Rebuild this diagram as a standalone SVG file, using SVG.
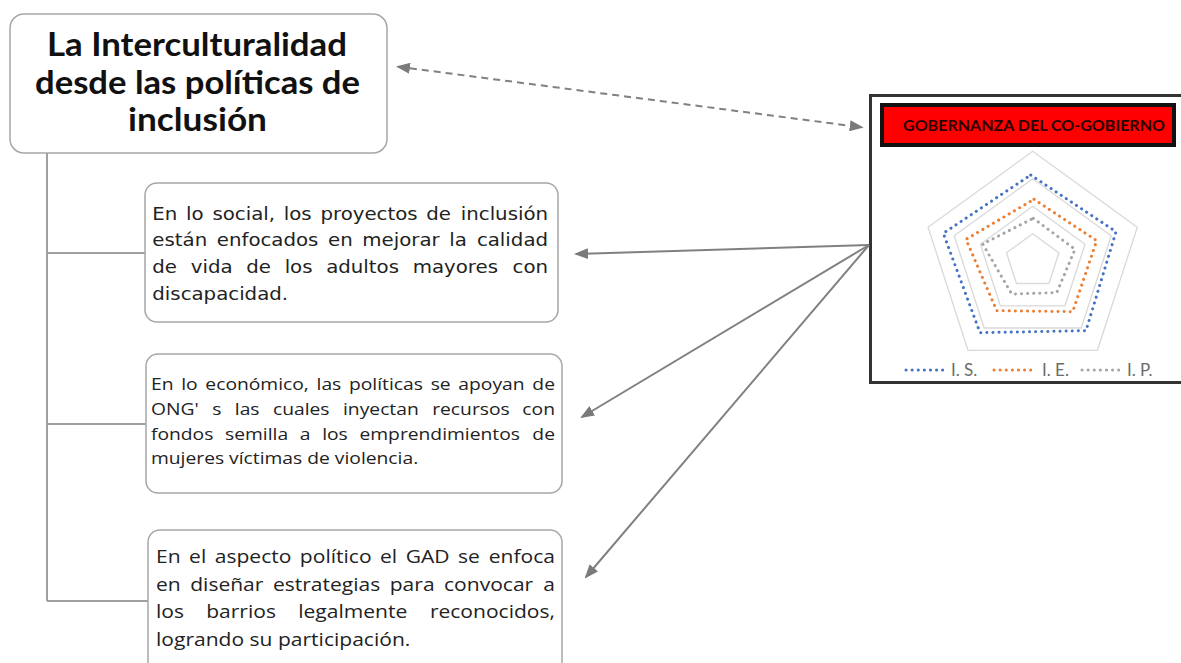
<svg xmlns="http://www.w3.org/2000/svg" width="1181" height="663" viewBox="0 0 1181 663">
<style>
.box{fill:#fff;stroke:#a6a6a6;stroke-width:1.5}
.title{font-family:Lato,"Liberation Sans",sans-serif;font-weight:700;font-size:33px;fill:#111}
.t1{font-family:"DejaVu Sans","Liberation Sans",sans-serif;font-size:17.5px;fill:#222}
.t2{font-family:"Open Sans","Liberation Sans",sans-serif;font-size:17.2px;fill:#222}
.t3{font-family:"Open Sans","Liberation Sans",sans-serif;font-size:18.8px;fill:#222}
.e{text-anchor:end}
.tree{stroke:#a0a0a0;stroke-width:2;fill:none}
.conn{stroke:#808080;stroke-width:2;fill:none}
.dash{stroke-dasharray:7 5}
.grid{fill:none;stroke:#d9d9d9;stroke-width:1.3}
.ser{fill:none;stroke-width:3;stroke-linecap:round;stroke-dasharray:0.1 6}
.leg{font-family:Lato,"Liberation Sans",sans-serif;font-size:17px;fill:#6b6b6b}
</style>
<defs>
<marker id="ah" viewBox="0 0 14 11" refX="12" refY="5.5" markerWidth="14" markerHeight="11" markerUnits="userSpaceOnUse" orient="auto-start-reverse">
<path d="M0,0 L14,5.5 L0,11 z" fill="#7a7a7a"/>
</marker>
</defs>
<rect width="1181" height="663" fill="#fff"/>

<g id="tree-lines">
<path class="tree" d="M47,153 V601 M47,253 H145 M47,424 H146 M47,601 H148"/>
</g>

<g id="main">
<rect class="box" x="10" y="14" width="377" height="139" rx="14"/>
<text class="title" x="47" y="56" textLength="300" lengthAdjust="spacingAndGlyphs">La Interculturalidad</text>
<text class="title" x="35" y="94" textLength="325" lengthAdjust="spacingAndGlyphs">desde las políticas de</text>
<text class="title" x="128" y="131" textLength="139" lengthAdjust="spacingAndGlyphs">inclusión</text>
</g>

<g id="social">
<rect class="box" x="145" y="183" width="413" height="139" rx="12"/>
<g transform="scale(1.13,1)">
<text class="t1" x="134.8" y="220.5" style="word-spacing:2.19px">En lo social, los proyectos de</text>
<text class="t1 e" x="485" y="220.5">inclusión</text>
<text class="t1" x="134.8" y="246.5" style="word-spacing:2.95px">están enfocados en mejorar la</text>
<text class="t1 e" x="485" y="246.5">calidad</text>
<text class="t1" x="134.8" y="273" style="word-spacing:6.56px">de vida de los adultos mayores</text>
<text class="t1 e" x="485" y="273">con</text>
<text class="t1" x="134.8" y="300">discapacidad.</text>
</g>
</g>

<g id="economico">
<rect class="box" x="146" y="354" width="416" height="139" rx="12"/>
<g transform="scale(1.12,1)">
<text class="t2" x="134.8" y="390.5" style="word-spacing:2.43px">En lo económico, las políticas se apoyan</text>
<text class="t2 e" x="495.5" y="390.5">de</text>
<text class="t2" x="134.8" y="415.5" style="word-spacing:7.56px">ONG' s las cuales inyectan recursos</text>
<text class="t2 e" x="495.5" y="415.5">con</text>
<text class="t2" x="134.8" y="440" style="word-spacing:5.96px">fondos semilla a los emprendimientos</text>
<text class="t2 e" x="495.5" y="440">de</text>
<text class="t2" x="134.8" y="464.5">mujeres víctimas de violencia.</text>
</g>
</g>

<g id="politico">
<rect class="box" x="148" y="530" width="414" height="150" rx="12"/>
<g transform="scale(1.12,1)">
<text class="t3" x="139.3" y="563" style="word-spacing:2.72px">En el aspecto político el GAD se</text>
<text class="t3 e" x="495.5" y="563">enfoca</text>
<text class="t3" x="139.3" y="591" style="word-spacing:3.59px">en diseñar estrategias para convocar</text>
<text class="t3 e" x="495.5" y="591">a</text>
<text class="t3" x="139.3" y="618" style="word-spacing:14.96px">los barrios legalmente</text>
<text class="t3 e" x="495.5" y="618">reconocidos,</text>
<text class="t3" x="139.3" y="646">logrando su participación.</text>
</g>
</g>

<g id="gobernanza">
<rect x="870.5" y="95.5" width="320" height="287" fill="#fff" stroke="#333" stroke-width="3"/>
<rect x="882" y="105" width="292" height="40" fill="#ff0000" stroke="#111" stroke-width="4"/>
<text x="903" y="131" textLength="262" lengthAdjust="spacingAndGlyphs" style="font-family:Lato,'Liberation Sans',sans-serif;font-weight:700;font-size:15px;fill:#2a0000">GOBERNANZA DEL CO-GOBIERNO</text>
<polygon class="grid" points="1032.7,151.3 1137.3,227.3 1097.4,350.3 968.0,350.3 928.1,227.3"/>
<polygon class="grid" points="1032.7,178.8 1111.2,235.8 1081.2,328.0 984.2,328.0 954.2,235.8"/>
<polygon class="grid" points="1032.7,206.3 1085.0,244.3 1065.0,305.8 1000.4,305.8 980.4,244.3"/>
<polygon class="grid" points="1032.7,233.8 1058.9,252.8 1048.9,283.5 1016.5,283.5 1006.5,252.8"/>
<polygon class="ser" stroke="#4472c4" points="1030.7,175 1116,231.7 1086,330.7 980,332.7 943.3,233.3"/>
<polygon class="ser" stroke="#ed7d31" points="1034,199.3 1096.7,240.7 1072.7,311.7 996.7,310.7 966,239.3"/>
<polygon class="ser" stroke="#a5a5a5" points="1033.3,218.3 1075,249.3 1056.7,292.7 1011.7,294 982.7,244"/>
<line class="ser" stroke="#4472c4" x1="906" y1="370" x2="945" y2="370"/>
<text class="leg" x="951" y="376">I. S.</text>
<line class="ser" stroke="#ed7d31" x1="994" y1="370" x2="1033" y2="370"/>
<text class="leg" x="1042" y="376">I. E.</text>
<line class="ser" stroke="#a5a5a5" x1="1082" y1="370" x2="1121" y2="370"/>
<text class="leg" x="1127" y="376">I. P.</text>
</g>

<g id="connectors">
<line class="conn dash" x1="398" y1="66.7" x2="861.7" y2="127.3" marker-start="url(#ah)" marker-end="url(#ah)"/>
<line class="conn" x1="869" y1="245" x2="576" y2="254" marker-end="url(#ah)"/>
<line class="conn" x1="869" y1="245" x2="582" y2="417" marker-end="url(#ah)"/>
<line class="conn" x1="869" y1="245" x2="586" y2="577" marker-end="url(#ah)"/>
</g>
</svg>
